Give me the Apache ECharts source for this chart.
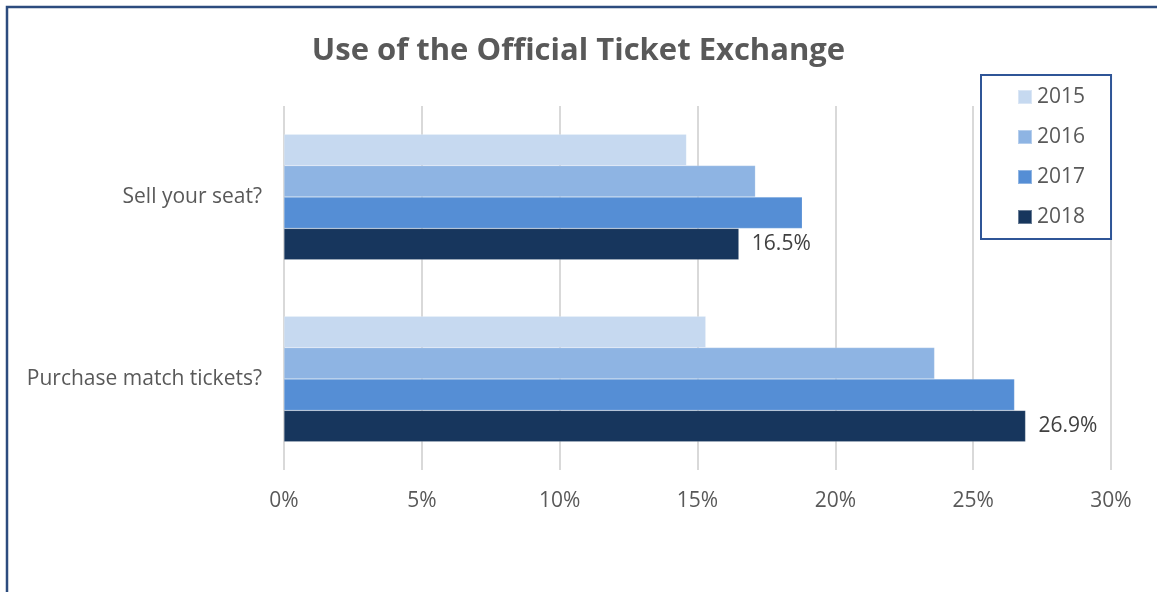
<!DOCTYPE html>
<html>
<head>
<meta charset="utf-8">
<script src="https://cdn.jsdelivr.net/npm/echarts@6/dist/echarts.min.js"></script>
<style>
html,body{margin:0;padding:0;background:#fff;}
#chart{width:1157px;height:592px;}
</style>
</head>
<body>
<div id="chart"></div>
<script>
const categories = ['Sell your seat?', 'Purchase match tickets?'];
const seriesNames = ['2015', '2016', '2017', '2018'];
const values2015 = [14.6, 15.3];
const values2016 = [17.1, 23.6];
const values2017 = [18.8, 26.5];
const values2018 = [16.5, 26.9];
const xTicks = [0, 5, 10, 15, 20, 25, 30];
const colors = ['#C6D9F0', '#8EB4E3', '#558ED5', '#17365D'];

const allValues = [values2015, values2016, values2017, values2018];
const font = '"Open Sans", Lato, sans-serif';

const chart = echarts.init(document.getElementById('chart'), null, {renderer: 'canvas'});
chart.setOption({
  animation: false,
  backgroundColor: '#fff',
  title: {
    text: 'Use of the Official Ticket Exchange',
    left: 'center',
    top: 31,
    textStyle: {fontFamily: font, fontSize: 31, fontWeight: 'bold', color: '#595959'}
  },
  graphic: [{
    type: 'rect',
    shape: {x: 7, y: 7, width: 1300, height: 800},
    style: {fill: 'none', stroke: '#2c4c7e', lineWidth: 2.5},
    silent: true
  }],
  legend: {
    orient: 'vertical',
    left: 981,
    top: 75,
    padding: [11, 26, 11, 36],
    itemGap: 18,
    itemWidth: 14,
    itemHeight: 14,
    borderColor: '#2f5597',
    borderWidth: 2,
    icon: 'rect',
    data: seriesNames,
    textStyle: {fontFamily: font, fontSize: 21, color: '#595959', lineHeight: 22}
  },
  grid: {left: 284, right: 46, top: 106, bottom: 122, containLabel: false},
  xAxis: {
    type: 'value',
    min: xTicks[0],
    max: xTicks[xTicks.length - 1],
    interval: 5,
    axisLine: {show: false},
    axisTick: {show: false},
    splitLine: {show: true, lineStyle: {color: '#d9d9d9', width: 2}},
    axisLabel: {
      fontFamily: font, fontSize: 21, color: '#595959', margin: 21,
      formatter: v => v + '%'
    }
  },
  yAxis: {
    type: 'category',
    inverse: true,
    data: categories,
    axisLine: {show: false},
    axisTick: {show: false},
    axisLabel: {fontFamily: font, fontSize: 21, color: '#595959', margin: 22}
  },
  series: seriesNames.map((name, i) => ({
    name: name,
    type: 'bar',
    data: allValues[i],
    barGap: '0%',
    barCategoryGap: '31%',
    itemStyle: {color: colors[i], borderColor: 'rgba(255,255,255,0.35)', borderWidth: 0.5},
    label: i === 3 ? {
      show: true,
      position: 'right',
      distance: 13,
      formatter: p => p.value.toFixed(1) + '%',
      fontFamily: font, fontSize: 21, color: '#404040'
    } : {show: false}
  }))
});
</script>
</body>
</html>
